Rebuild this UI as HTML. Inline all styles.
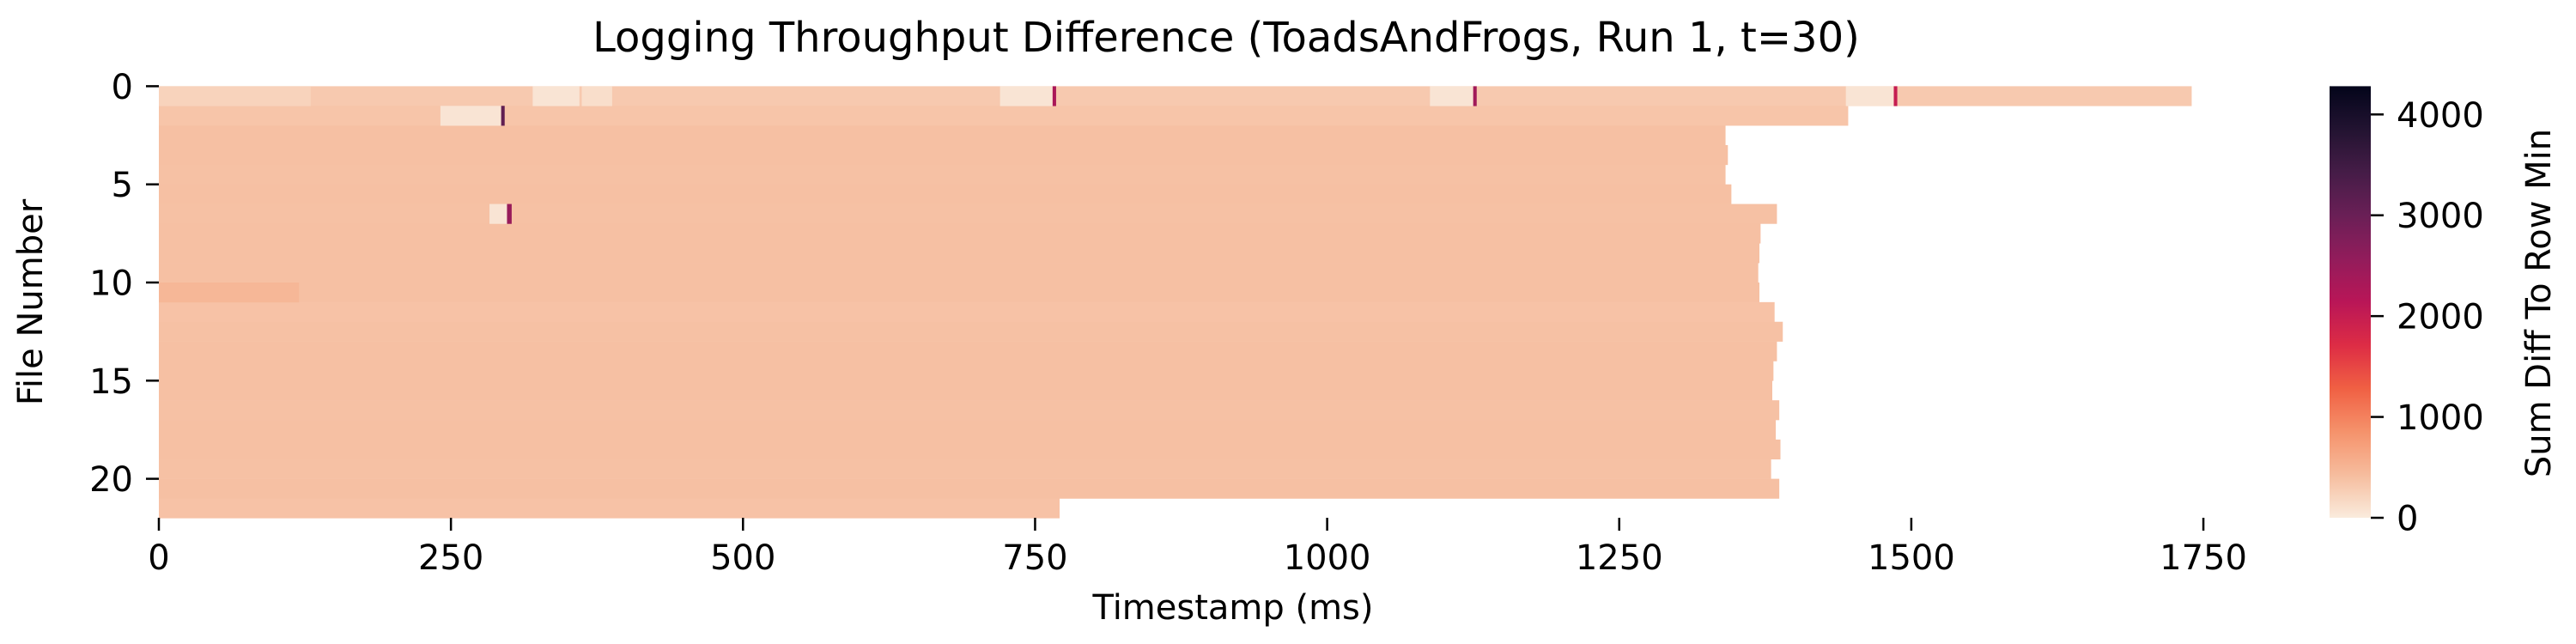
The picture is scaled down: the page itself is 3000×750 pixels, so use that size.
<!DOCTYPE html>
<html><head><meta charset="utf-8"><style>
html,body{margin:0;padding:0;background:#fff;}
svg{display:block;}
text{font-family:"DejaVu Sans","Liberation Sans",sans-serif;fill:#000;}
</style></head><body>
<svg id="chart" width="3000" height="750" viewBox="0 0 3000 750"></svg>
<script>
// ---- data ----
const rowIndex = [0,1,2,3,4,5,6,7,8,9,10,11,12,13,14,15,16,17,18,19,20,21];
const rowLength = [1740,1446,1341,1343,1341,1346,1385,1371,1370,1369,1370,1383,1390,1385,1382,1381,1387,1384,1388,1380,1387,771];
const rowMean = [310,350,390,390,380,390,380,390,390,390,390,370,380,390,390,390,380,390,390,380,390,370];
// patches: [row, start, end, value]
const patchRow =   [0,   0,   0,   0,    0,    1,   6,   10,  0];
const patchStart = [0,   320, 362, 1088, 1444, 241, 283, 0,   720];
const patchEnd =   [130, 360, 388, 1126, 1485, 293, 298, 120, 766];
const patchValue = [220, 60,  120, 60,   60,   60,  60,  480, 60];
// spikes: [row, x, value]
const spikeRow =   [0,    0,    0,    1,    6];
const spikeX =     [765,  1125, 1485, 293,  298];
const spikeWidth = [3,    3,    3,    3,    4];
const spikeValue = [2300, 2400, 2000, 3100, 2500];
const xTicks = [0,250,500,750,1000,1250,1500,1750];
const yTicks = [0,5,10,15,20];
const cbTicks = [0,1000,2000,3000,4000];
const vmax = 4280;

// ---- layout ----
const L = 185, T = 100.4, rowH = 22.86, pxPerMs = 1.3606;
const cbX = 2713, cbW = 48, cbTop = 100.4, cbBot = 603;
const xs = v => L + v * pxPerMs;
const ys = r => T + r * rowH;
const cbY = v => cbBot - (v / vmax) * (cbBot - cbTop);

const stops = [[3,5,26],[34,19,49],[69,28,71],[106,31,86],[146,28,91],[185,22,87],[221,44,69],[240,96,67],[245,146,107],[246,188,157],[250,235,221]];
function color(v){
  let t = 1 - Math.max(0, Math.min(1, v / vmax));
  const p = t * 10, i = Math.min(9, Math.floor(p)), f = p - i;
  const a = stops[i], b = stops[i+1];
  return 'rgb(' + [0,1,2].map(k => Math.round(a[k] + (b[k]-a[k]) * f)).join(',') + ')';
}

const svg = document.getElementById('chart');
const NS = 'http://www.w3.org/2000/svg';
function mk(tag, attrs, parent){
  const e = document.createElementNS(NS, tag);
  for (const k in attrs) e.setAttribute(k, attrs[k]);
  (parent || svg).appendChild(e);
  return e;
}

const hm = mk('g', {});


rowIndex.forEach(r => {
  const rc = mk('rect', {x: xs(0), y: ys(r), width: rowLength[r] * pxPerMs, height: rowH + 0.3, fill: color(rowMean[r])}, hm);
  
  
});
patchRow.forEach((r, i) => {
  const rc = mk('rect', {x: xs(patchStart[i]), y: ys(r), width: (patchEnd[i] - patchStart[i]) * pxPerMs, height: rowH + 0.3, fill: color(patchValue[i])}, hm);
  
  
});
spikeRow.forEach((r, i) => {
  const rc = mk('rect', {x: xs(spikeX[i]), y: ys(r), width: spikeWidth[i] * pxPerMs, height: rowH + 0.3, fill: color(spikeValue[i])}, hm);
  
  
});

xTicks.forEach(v => {
  const x = xs(v);
  const tk = mk('line', {x1: x, x2: x, y1: 603, y2: 618, stroke: '#000', 'stroke-width': 2.5});
  
  
  const t = mk('text', {x: x, y: 663, 'font-size': 40, 'text-anchor': 'middle'});
  t.textContent = v;
  
  
});
yTicks.forEach(v => {
  const y = ys(v);
  const tk = mk('line', {x1: 170, x2: 185, y1: y, y2: y, stroke: '#000', 'stroke-width': 2.5});
  
  
  const t = mk('text', {x: 155, y: y + 14.5, 'font-size': 40, 'text-anchor': 'end'});
  t.textContent = v;
  
  
});

const defs = mk('defs', {});
const grad = mk('linearGradient', {id: 'cbg', x1: 0, y1: 1, x2: 0, y2: 0}, defs);
for (let i = 0; i <= 20; i++) {
  mk('stop', {offset: (i/20), 'stop-color': color(vmax * i / 20)}, grad);
}
const cb = mk('rect', {x: cbX, y: cbTop, width: cbW, height: cbBot - cbTop, fill: 'url(#cbg)'});


cbTicks.forEach(v => {
  const y = cbY(v);
  const tk = mk('line', {x1: cbX + cbW, x2: cbX + cbW + 15, y1: y, y2: y, stroke: '#000', 'stroke-width': 2.5});
  
  
  const t = mk('text', {x: cbX + cbW + 30, y: y + 14.5, 'font-size': 40});
  t.textContent = v;
  
  
});
</script>
<div style="position:absolute;left:0;top:0;width:3000px;height:750px;pointer-events:none">
<svg width="3000" height="750" style="position:absolute;left:0;top:0">
<text x="1428" y="60" font-size="48" text-anchor="middle">Logging Throughput Difference (ToadsAndFrogs, Run 1, t=30)</text>
<text x="1436" y="721" font-size="40" text-anchor="middle">Timestamp (ms)</text>
<text transform="translate(49,352) rotate(-90)" font-size="40" text-anchor="middle">File Number</text>
<text transform="translate(2970,353) rotate(-90)" font-size="40" text-anchor="middle">Sum Diff To Row Min</text>
</svg>
</div>
</body></html>
